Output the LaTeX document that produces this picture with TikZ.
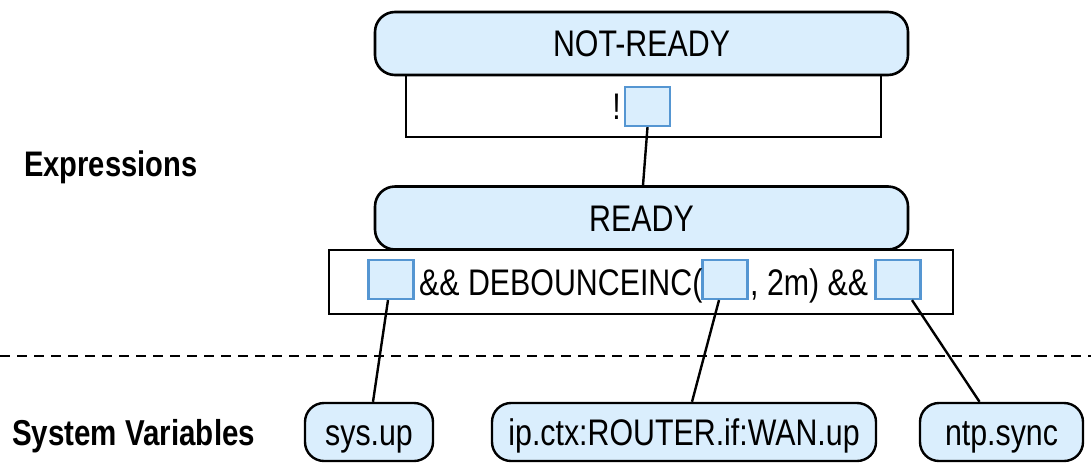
\documentclass[tikz,border=0pt]{standalone}
\usepackage{fontspec}
\setmainfont{Liberation Sans}[FakeStretch=0.82]
\definecolor{boxfill}{RGB}{218,238,253}
\definecolor{slotblue}{RGB}{85,150,210}
\begin{document}
\begin{tikzpicture}[x=1pt,y=-1pt,
  every node/.style={font=\fontsize{37}{42}\selectfont},
  state/.style={draw=black, line width=2.6pt, fill=boxfill, rounded corners=20pt,
    minimum width=533pt, minimum height=63pt, inner sep=0pt,
    text height=26.5pt, text depth=0pt},
  var/.style={draw=black, line width=2.4pt, fill=boxfill, rounded corners=19pt,
    minimum height=58pt, inner sep=0pt, text height=26.5pt, text depth=0pt},
  exprbox/.style={draw=black, line width=2.6pt, fill=white, inner sep=0pt},
  slot/.style={draw=slotblue, line width=2.2pt, fill=boxfill, inner sep=0pt,
    minimum width=45pt, minimum height=39pt},
  txt/.style={inner sep=0pt, anchor=base west},
  lbl/.style={inner sep=0pt, anchor=base west},
  link/.style={draw=black, line width=2.4pt}]
\useasboundingbox (0,0) rectangle (1091,464);

% top expression
\node[exprbox, minimum width=475pt, minimum height=62pt] (e1) at (643.5,106) {};
\node[state] (notready) at (641.5,43.5) {NOT-READY};
\node[slot] (q0) at (647.5,106.5) {};
\node[inner sep=0pt, anchor=east] (bang) at ([xshift=-3pt]q0.west) {!};

% ready expression
\node[exprbox, minimum width=624pt, minimum height=64pt] (e2) at (641,282) {};
\node[state] (ready) at (641.5,218) {READY};
\node[slot] (q1) at (391,279.5) {};
\node[slot] (q2) at (725,279.5) {};
\node[slot] (q3) at (898,279.5) {};
\node[txt] (t1) at (419,295) {\&\& DEBOUNCEINC(};
\node[txt] (t2) at (750,295) {, 2m) \&\&};

% labels
\node[lbl, font=\fontsize{35.5}{40}\selectfont\bfseries] (lexp) at (24,176) {Expressions};
\node[lbl, font=\fontsize{36}{40}\selectfont\bfseries] (lsys) at (12,445) {System Variables};

% separator
\coordinate (sepL) at (0,356);
\coordinate (sepR) at (1091,356);
\draw[line width=2.4pt, dash pattern=on 10pt off 7pt] (sepL) -- (sepR);

% system variables
\node[var, minimum width=128pt] (sys) at (369,432) {sys.up};
\node[var, minimum width=384pt] (ip) at (684,432) {ip.ctx:ROUTER.if:WAN.up};
\node[var, minimum width=163pt] (ntp) at (1001.5,432) {ntp.sync};

% connectors
\draw[link] (q0.south) -- ([xshift=1.5pt]ready.north);
\draw[link] ([xshift=-3pt]q1.south) -- ([xshift=4pt]sys.north);
\draw[link] ([xshift=-6pt]q2.south) -- ([xshift=8pt]ip.north);
\draw[link] ([xshift=14pt]q3.south) -- ([xshift=-22pt]ntp.north);
\end{tikzpicture}
\end{document}
